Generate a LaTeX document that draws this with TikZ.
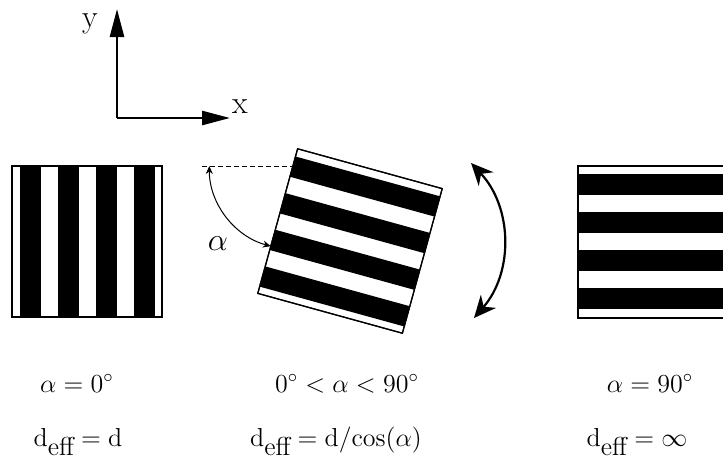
\RequirePackage{fix-cm}
\documentclass[tikz,border=0pt]{standalone}
\usepackage{amsmath}
\usepackage{tikz}
\usetikzlibrary{arrows.meta, calc}
\tikzset{
    % Grating squares and their stripes
    grating/.style={
        draw=black,
        line width=0.6pt,
        fill=white
    },
    stripe/.style={
        fill=black
    },
    % Arrows
    axis arrow/.style={
        -{Triangle[length=14pt,width=7pt]},
        line width=1.3pt
    },
    angle arrow/.style={
        {Stealth[length=4pt,width=3.5pt]}-{Stealth[length=4pt,width=3.5pt]},
        line width=0.5pt
    },
    turn arrow/.style={
        {Stealth[length=11pt,width=10pt]}-{Stealth[length=11pt,width=10pt]},
        line width=1.1pt
    },
    caption/.style={
        font=\fontsize{13}{16}\selectfont,
        inner sep=0pt,
        anchor=base
    },
    big label/.style={
        font=\fontsize{16}{19}\selectfont,
        inner sep=0pt,
        anchor=center
    }
}
\newcommand{\deff}{\mathrm{d}\raisebox{-4.5pt}{eff}}

\begin{document}
\begin{tikzpicture}[x=0.5pt, y=-0.5pt]
    \useasboundingbox (0,0) rectangle (723,461);

    % Axes
    \coordinate (origin) at (117,118);
    \coordinate (ytip) at (117,9);
    \coordinate (xtip) at (230,118);
    \draw[axis arrow] (origin) -- (ytip);
    \draw[axis arrow] (origin) -- (xtip);
    \node[big label] (ylabel) at (90,24) {y};
    \node[big label] (xlabel) at (240,107) {x};

    % Left grating, alpha = 0
    \draw[grating] (12,166) rectangle (162,317);
    \foreach \k in {0,...,3}
        \fill[stripe] ({20+38*\k},166) rectangle ({41+38*\k},317);
    \draw[grating, fill=none] (12,166) rectangle (162,317);

    % Middle grating, rotated
    \begin{scope}[shift={(350,241)}, rotate=-15.4]
        \draw[grating] (-75,-75) rectangle (75,75);
        \foreach \k in {0,...,3}
            \fill[stripe] (-75,{-67+38*\k}) rectangle (75,{-46+38*\k});
        \draw[grating, fill=none] (-75,-75) rectangle (75,75);
    \end{scope}

    % Angle alpha
    \coordinate (corner) at (292.3,166);
    \coordinate (dashstart) at (202,166);
    \coordinate (arcstart) at ($(corner)+(-83,0)$);
    \draw[dashed, dash pattern=on 2.5pt off 1.5pt, line width=0.5pt] (dashstart) -- (corner);
    \draw[angle arrow] (arcstart) arc[start angle=180, end angle=105, radius=83];
    \node[big label] (alphalabel) at (218,244) {$\alpha$};

    % Turning arrow
    \coordinate (turntop) at (471,163);
    \coordinate (turnbottom) at (474,318);
    \draw[turn arrow] (turntop) to[bend left=42] (turnbottom);

    % Right grating, alpha = 90
    \draw[grating] (578,166) rectangle (728,318);
    \foreach \k in {0,...,3}
        \fill[stripe] (578,{174+38*\k}) rectangle (728,{195+38*\k});
    \draw[grating, fill=none] (578,166) rectangle (728,318);

    % Captions
    \node[caption] (capzero) at (77,392) {$\alpha = 0^\circ$};
    \node[caption] (capmid) at (347,392) {$0^\circ < \alpha < 90^\circ$};
    \node[caption] (capninety) at (650,392) {$\alpha = 90^\circ$};
    \node[caption] (deffzero) at (78,446) {$\deff = \mathrm{d}$};
    \node[caption] (deffmid) at (336,446) {$\deff = \mathrm{d}/\mathrm{cos}(\alpha)$};
    \node[caption] (deffninety) at (637,446) {$\deff = \infty$};
\end{tikzpicture}
\end{document}
